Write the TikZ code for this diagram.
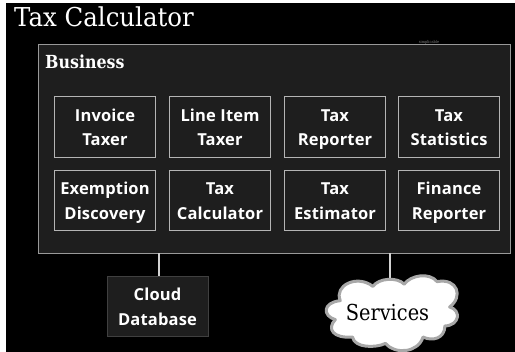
\documentclass[tikz,border=0pt]{standalone}
\usepackage{fontspec}
\setmainfont[FakeStretch=0.88]{DejaVu Serif}
\newfontfamily\titlefont[FakeStretch=0.94]{DejaVu Serif}
\newfontfamily\boxfont[LetterSpace=1]{Open Sans}
\definecolor{panel}{HTML}{1E1E1E}
\definecolor{edge}{HTML}{B4B4B4}
\definecolor{cloudedge}{HTML}{A8A8A8}
\newcommand\twolines[2]{\rule{0pt}{17.2pt}#1\\#2\rule[-4pt]{0pt}{4pt}}
\tikzset{
  x=1pt,y=-1pt,
  inner/.style={draw=edge,line width=1.3pt,fill=panel,minimum width=101pt,minimum height=60.5pt,inner sep=0pt,align=center,text=white,font=\boxfont\bfseries\fontsize{16.5}{24.5}\selectfont},
  link/.style={draw=edge!60!white,line width=1.6pt}
}
\begin{document}
\begin{tikzpicture}
\useasboundingbox (0,0) rectangle (515,352);
\fill[white] (0,0) rectangle (515,352);
\fill[black] (5.5,3) rectangle (515,352);
\node[anchor=base west,text=white,inner sep=0pt,font=\titlefont\fontsize{26}{30}\selectfont] (title) at (14,27) {Tax Calculator};
\node[draw=edge!85!black,line width=1pt,fill=panel,minimum width=471.5pt,minimum height=209pt,inner sep=0pt] (frame) at (274.25,149) {};
\node[anchor=base west,text=white,inner sep=0pt,font=\bfseries\fontsize{18}{20}\selectfont] (biz) at (45,68.5) {Business};
\node[anchor=base,text=gray,inner sep=0pt,font=\fontsize{4}{4}\selectfont] (mark) at (429,44) {simplicable};
\node[inner] (a1) at (105,127) {\twolines{Invoice}{Taxer}};
\node[inner] (a2) at (220,127) {\twolines{Line Item}{Taxer}};
\node[inner] (a3) at (335,127) {\twolines{Tax}{Reporter}};
\node[inner] (a4) at (449,127) {\twolines{Tax}{Statistics}};
\node[inner] (b1) at (105,200.5) {\twolines{Exemption}{Discovery}};
\node[inner] (b2) at (220,200.5) {\twolines{Tax}{Calculator}};
\node[inner] (b3) at (335,200.5) {\twolines{Tax}{Estimator}};
\node[inner] (b4) at (449,200.5) {\twolines{Finance}{Reporter}};
\node[inner,draw=panel!85!white,line width=.6pt] (db) at (157.5,306.5) {\twolines{Cloud}{Database}};
\coordinate (f1) at (159,253.5);
\coordinate (f2) at (390,253.5);
\coordinate (ctop) at (390,283);
\draw[link] (f1) -- (f1 |- db.north);
\draw[link] (f2) -- (ctop);
\begin{scope}[shift={(23.5,15.65)},xscale=.94,yscale=.95]
\draw[draw=cloudedge,line width=3pt,fill=white,line join=round]
  (337,300) .. controls (330,284) and (355,272) .. (371.7,285)
  .. controls (378,276) and (398,275) .. (405,282.7)
  .. controls (412,273) and (432,270) .. (440,280)
  .. controls (462,276) and (468,296) .. (453.3,306.7)
  .. controls (466,310) and (464,326) .. (448.3,326.7)
  .. controls (448,340) and (435,343) .. (425,338.3)
  .. controls (420,355) and (395,357) .. (385,345)
  .. controls (375,350) and (352,350) .. (350,338.3)
  .. controls (330,340) and (322,330) .. (331.7,320)
  .. controls (318,316) and (318,302) .. (337,300) -- cycle;
\end{scope}
\node[text=black,inner sep=0pt,font=\fontsize{22}{24}\selectfont] (svc) at (387.5,312.5) {Services};
\end{tikzpicture}
\end{document}
